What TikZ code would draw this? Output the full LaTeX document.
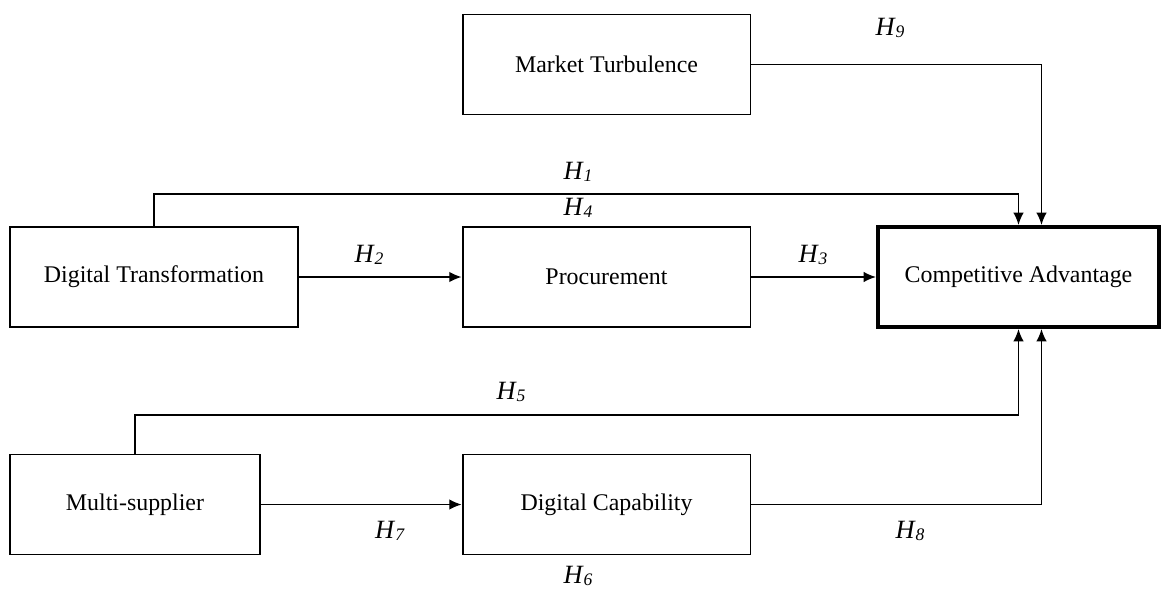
\documentclass[tikz,border=0pt]{standalone}
\usepackage{fontspec}
\setmainfont{Liberation Serif}
\usetikzlibrary{arrows.meta,calc}

% hypothesis label: italic H with a small lowered digit
\newcommand{\hyp}[1]{\textit{H}{\fontsize{10}{10}\selectfont\raisebox{-1.5pt}{\textit{#1}}}}

\begin{document}
\begin{tikzpicture}[x=0.02cm,y=-0.02cm,
    box/.style={draw,line width=1.1pt,minimum width=5.76cm,minimum height=2cm,
      inner sep=0pt,font=\fontsize{13.6}{16}\selectfont},
    mainbox/.style={box,line width=2.4pt,minimum width=5.62cm},
    link/.style={line width=0.8pt,-{Latex[length=7pt,width=6pt]}},
    hlab/.style={font=\fontsize{15}{18}\selectfont,inner sep=0pt}]
  \useasboundingbox (0,0) rectangle (1162,588);

  % constructs
  \node[box] (mt) at (606.5,64.5) {Market Turbulence};
  \node[box] (dt) at (154,277) {Digital Transformation};
  \node[box] (pr) at (606.5,277) {Procurement};
  \node[mainbox] (ca) at (1018.5,277) {Competitive Advantage};
  \node[box,minimum width=5cm] (ms) at (135,504.5) {Multi-supplier};
  \node[box] (dc) at (606.5,504.5) {Digital Capability};

  \coordinate (ca-n) at ($(ca.north)+(23,0)$);
  \coordinate (ca-s) at ($(ca.south)+(23,0)$);

  % paths
  \draw[link] (dt.north) -- (dt.north |- 0,194) -| (ca.north);
  \draw[link] (mt.east) -| (ca-n);
  \draw[link] (dt.east) -- (pr.west);
  \draw[link] (pr.east) -- (ca.west);
  \draw[link] (ms.north) -- (ms.north |- 0,415) -| (ca.south);
  \draw[link] (ms.east) -- (dc.west);
  \draw[link] (dc.east) -| (ca-s);

  % hypotheses
  \node[hlab] (h1) at (578,172) {\hyp{1}};
  \node[hlab] (h4) at (578,208) {\hyp{4}};
  \node[hlab] (h9) at (890,28) {\hyp{9}};
  \node[hlab] (h2) at (369,255) {\hyp{2}};
  \node[hlab] (h3) at (813,255) {\hyp{3}};
  \node[hlab] (h5) at (511,392) {\hyp{5}};
  \node[hlab] (h7) at (390,531) {\hyp{7}};
  \node[hlab] (h8) at (910,531) {\hyp{8}};
  \node[hlab] (h6) at (578,576) {\hyp{6}};
\end{tikzpicture}
\end{document}
